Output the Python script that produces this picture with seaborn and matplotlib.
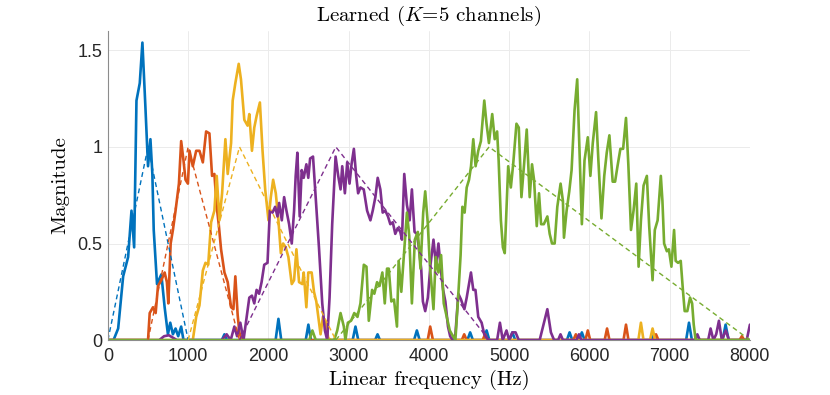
import numpy as np
import pandas as pd
import matplotlib
matplotlib.use("Agg")
import matplotlib.pyplot as plt
import seaborn as sns

# learned filter responses (Hz, magnitude)
blue_f = [0, 70, 128, 190, 252, 294, 327, 356, 397, 430, 467, 500, 530, 554, 571, 612, 666, 707, 748, 777, 810, 843, 876, 913, 942,
          1420, 1452, 1485, 2090, 2125, 2160, 2465, 2498, 2530, 3050, 3085, 3120, 3330, 3360, 3390, 3815, 3850, 3885,
          4480, 4514, 4548, 4685, 4719, 4753, 5005, 5040, 5075, 5720, 5753, 5786, 5872, 5906, 5940, 6765, 6800, 6835,
          7205, 7241, 7277, 7660, 7697, 7735, 8000]
blue_v = [0, 0, 0.06, 0.33, 0.43, 0.67, 0.48, 1.24, 1.33, 1.54, 1.21, 0.90, 1.04, 0.86, 0.57, 0.29, 0.34, 0.17, 0.03, 0.09, 0.03, 0.06, 0.02, 0.07, 0,
          0, 0.03, 0, 0, 0.11, 0, 0, 0.08, 0, 0, 0.07, 0, 0, 0.03, 0, 0, 0.05, 0,
          0, 0.04, 0, 0, 0.05, 0, 0, 0.04, 0, 0, 0.04, 0, 0, 0.04, 0, 0, 0.03, 0,
          0, 0.09, 0, 0, 0.08, 0, 0]

orange_f = [0, 500, 521, 562, 595, 624, 666, 707, 735, 753, 782, 810, 843, 885, 913, 942, 967, 997, 1017, 1058, 1100, 1141, 1183,
            1224, 1265, 1298, 1327, 1356, 1381, 1410, 1452, 1493, 1535, 1564, 1588, 1617, 1638, 1670,
            3985, 4016, 4050, 4410, 4440, 4470, 4670, 4700, 4730, 5800, 5831, 5862, 5950, 5980, 6010,
            6190, 6220, 6250, 6425, 6456, 6487, 6800, 6830, 6860, 7870, 7900, 7930, 8000]
orange_v = [0, 0, 0.14, 0.17, 0.14, 0.28, 0.31, 0.35, 0.30, 0.19, 0.50, 0.57, 0.67, 0.81, 1.03, 0.93, 0.83, 0.81, 0.98, 0.90, 0.98, 0.98, 0.92,
            1.08, 1.07, 0.85, 0.86, 0.69, 0.60, 0.47, 0.35, 0.30, 0.17, 0.16, 0.33, 0.13, 0.04, 0,
            0, 0.07, 0, 0, 0.03, 0, 0, 0.03, 0, 0, 0.03, 0, 0, 0.05, 0,
            0, 0.06, 0, 0, 0.08, 0, 0, 0.03, 0, 0, 0.02, 0, 0]

yellow_f = [0, 1058, 1100, 1141, 1183, 1216, 1250, 1286, 1327, 1356, 1390, 1423, 1464, 1493, 1535, 1555, 1588, 1630, 1658, 1700,
            1741, 1762, 1795, 1824, 1853, 1894, 1927, 1960, 2001, 2030, 2059, 2092, 2125, 2155, 2183, 2216, 2249, 2291, 2320,
            2349, 2382, 2423, 2440, 2473, 2497, 2539, 2568, 2597, 2622, 2650, 2679, 2713, 2746, 2780,
            6610, 6642, 6674, 6755, 6787, 6819, 8000]
yellow_v = [0, 0, 0.12, 0.18, 0.36, 0.40, 0.39, 0.61, 0.67, 0.85, 0.62, 0.76, 1.04, 0.86, 1.02, 1.24, 1.33, 1.43, 1.35, 1.14,
            1.11, 1.17, 0.98, 1.10, 1.16, 1.23, 0.98, 0.78, 0.62, 0.74, 0.83, 0.76, 0.62, 0.45, 0.50, 0.48, 0.43, 0.29, 0.31,
            0.47, 0.30, 0.29, 0.35, 0.17, 0.35, 0.35, 0.25, 0.20, 0.12, 0.03, 0.12, 0.09, 0.01, 0,
            0, 0.09, 0, 0, 0.06, 0, 0]

purple_f = [0, 640, 700, 760, 820, 860, 1420, 1480, 1530, 1576, 1610, 1650, 1690, 1729, 1762, 1795, 1824, 1853, 1884, 1915, 1948,
            1989, 2018, 2051, 2084, 2113, 2134, 2167, 2196, 2225, 2258, 2291, 2320, 2340, 2361, 2390, 2415, 2440, 2473, 2497,
            2520, 2556, 2589, 2630, 2671, 2704, 2733, 2762, 2795, 2837, 2870, 2899, 2920, 2953, 2982, 3011, 3036, 3065, 3094,
            3118, 3147, 3188, 3230, 3271, 3300, 3333, 3362, 3395, 3424, 3457, 3490, 3519, 3550, 3581, 3612, 3644, 3664, 3693,
            3726, 3760, 3788, 3821, 3850, 3871, 3904, 3925, 3954, 3987, 4020, 4057, 4088, 4119, 4150, 4177, 4205, 4238, 4265,
            4296, 4330, 4367, 4400, 4442, 4471, 4524, 4553, 4580, 4615, 4657, 4690, 4740, 4850, 4885, 4920, 4967, 5000, 5040,
            5080, 5120, 5380, 5422, 5476, 5520, 5560, 5610, 5640, 5670, 5840, 5870, 5900, 7315, 7345, 7375, 7480, 7510, 7545,
            7580, 7614, 7650, 7700, 7740, 7960, 8000]
purple_v = [0, 0, 0.02, 0.025, 0.01, 0, 0, 0.03, 0, 0.07, 0.02, 0.09, 0, 0.12, 0.22, 0.23, 0.19, 0.26, 0.24, 0.30, 0.39,
            0.40, 0.67, 0.66, 0.69, 0.64, 0.71, 0.62, 0.74, 0.67, 0.60, 0.50, 0.67, 0.85, 0.97, 0.64, 0.88, 0.84, 0.91, 0.84,
            0.94, 0.95, 0.74, 0.48, 0.19, 0.05, 0, 0.22, 0.60, 0.95, 0.85, 0.78, 0.90, 0.76, 0.92, 0.81, 0.91, 0.99, 0.85,
            0.76, 0.79, 0.78, 0.67, 0.62, 0.67, 0.74, 0.84, 0.78, 0.66, 0.67, 0.64, 0.60, 0.61, 0.55, 0.58, 0.56, 0.52, 0.86,
            0.70, 0.62, 0.78, 0.56, 0.55, 0.49, 0.37, 0.20, 0.15, 0.22, 0.39, 0.52, 0.39, 0.50, 0.36, 0.26, 0.20, 0.07, 0.02,
            0, 0.03, 0.24, 0.21, 0.16, 0.22, 0.35, 0.26, 0.26, 0.12, 0.09, 0.03, 0, 0, 0.09, 0, 0.05, 0, 0.04,
            0.04, 0, 0, 0.07, 0.16, 0.04, 0, 0, 0.03, 0, 0, 0.03, 0, 0, 0.03, 0, 0, 0.06, 0,
            0.03, 0.10, 0, 0.05, 0, 0, 0.08]

green_f = [0, 2510, 2548, 2590, 2820, 2858, 2899, 2940, 2960, 2990, 3030, 3070, 3110, 3147, 3189, 3222, 3251, 3292, 3320, 3354,
           3385, 3420, 3450, 3478, 3500, 3532, 3565, 3602, 3623, 3656, 3690, 3726, 3755, 3788, 3825, 3862, 3895, 3929, 3954,
           3985, 4012, 4057, 4085, 4119, 4152, 4185, 4222, 4260, 4300, 4330, 4367, 4395, 4417, 4445, 4471, 4500, 4525, 4553,
           4582, 4615, 4648, 4690, 4718, 4748, 4789, 4820, 4850, 4869, 4897, 4922, 4945, 4988, 5021, 5050, 5091, 5120, 5153,
           5186, 5219, 5256, 5285, 5310, 5344, 5372, 5398, 5432, 5476, 5505, 5534, 5567, 5600, 5641, 5670, 5683, 5716, 5749,
           5778, 5815, 5848, 5877, 5906, 5939, 5980, 6012, 6042, 6083, 6112, 6150, 6185, 6216, 6249, 6290, 6320, 6350, 6386,
           6420, 6456, 6485, 6518, 6550, 6584, 6613, 6642, 6675, 6716, 6745, 6787, 6815, 6850, 6890, 6910, 6931, 6965, 6990,
           7022, 7055, 7075, 7105, 7138, 7165, 7187, 7220, 7254, 7280, 7300, 7324, 8000]
green_v = [0, 0, 0.05, 0, 0, 0.05, 0.14, 0.07, 0, 0.09, 0.10, 0.14, 0.12, 0.19, 0.39, 0.38, 0.10, 0.26, 0.24, 0.30,
           0.28, 0.35, 0.19, 0.37, 0.37, 0.20, 0.21, 0.07, 0.41, 0.25, 0.45, 0.66, 0.54, 0.19, 0.52, 0.56, 0.37, 0.66, 0.77,
           0.61, 0.39, 0.16, 0.43, 0.35, 0.44, 0.19, 0.12, 0.05, 0.02, 0, 0.24, 0.44, 0.69, 0.66, 0.79, 0.83, 0.90, 1.04,
           0.90, 0.98, 1.03, 1.24, 1.12, 1.02, 1.17, 1.04, 1.08, 0.93, 0.62, 0.48, 0.45, 0.90, 0.79, 0.91, 1.12, 1.10, 0.74,
           0.91, 1.09, 0.74, 0.91, 0.83, 0.59, 0.76, 0.60, 0.60, 0.64, 0.55, 0.50, 0.50, 0.69, 0.81, 0.72, 0.53, 0.67, 0.77,
           0.88, 1.19, 1.35, 0.97, 0.60, 0.93, 1.05, 0.85, 1.02, 1.18, 0.93, 0.63, 0.85, 0.97, 1.06, 0.82, 0.82, 0.90, 0.99,
           0.99, 1.15, 0.91, 0.57, 0.67, 0.81, 0.38, 0.62, 0.80, 0.85, 0.59, 0.31, 0.57, 0.62, 0.85, 0.72, 0.50, 0.46, 0.47,
           0.38, 0.57, 0.41, 0.40, 0.41, 0.26, 0.15, 0.15, 0.22, 0.19, 0.08, 0, 0]

# triangular (mel-like) reference filters: edges and peak height
tri_edges = [0, 500, 1000, 1640, 2840, 4750, 8000]
tri_peak = 1.0

channels = ["1", "2", "3", "4", "5"]
colors = ["#0072BD", "#D95319", "#EDB120", "#7E2F8E", "#77AC30"]

curves = [(blue_f, blue_v), (orange_f, orange_v), (yellow_f, yellow_v), (purple_f, purple_v), (green_f, green_v)]
learned = pd.concat([pd.DataFrame({"freq": f, "mag": v, "channel": ch}) for ch, (f, v) in zip(channels, curves)])

tri = pd.concat([
    pd.DataFrame({"freq": tri_edges[i:i + 3], "mag": [0, tri_peak, 0], "channel": ch})
    for i, ch in enumerate(channels)
])

sns.set_theme(style="white")
plt.rcParams["font.family"] = ["Liberation Sans", "DejaVu Sans"]
plt.rcParams["mathtext.fontset"] = "cm"

fig = plt.figure(figsize=(8.3, 3.95), dpi=100)
ax = fig.add_axes([0.130, 0.139, 0.7735, 0.7825])

pal = dict(zip(channels, colors))
sns.lineplot(data=learned, x="freq", y="mag", hue="channel", hue_order=channels, palette=pal,
             estimator=None, sort=False, lw=1.9, legend=False, ax=ax)
sns.lineplot(data=tri, x="freq", y="mag", hue="channel", hue_order=channels, palette=pal,
             estimator=None, sort=False, lw=1.0, ls=(0, (3.5, 2.5)), legend=False, ax=ax)

ax.set_xlim(0, 8000)
ax.set_ylim(0, 1.6)
ax.set_xticks(range(0, 8001, 1000))
ax.set_yticks([0, 0.5, 1, 1.5])
ax.set_yticklabels(["0", "0.5", "1", "1.5"])
ax.grid(True, color="#ebebeb", lw=0.7)
ax.set_axisbelow(True)
for s in ["top", "right"]:
    ax.spines[s].set_visible(False)
for s in ["left", "bottom"]:
    ax.spines[s].set_color("#8c8c8c")
    ax.spines[s].set_linewidth(0.8)
ax.tick_params(direction="in", length=3, width=0.8, color="#8c8c8c", labelsize=13, labelcolor="#262626")
ax.tick_params(axis="x", pad=6)
ax.tick_params(axis="y", pad=4)

ax.set_title("Learned ($K$=5 channels)", fontfamily="cmr10", fontsize=15, color="#000000", pad=7)
ax.set_xlabel("Linear frequency (Hz)", fontfamily="cmr10", fontsize=15, color="#000000", labelpad=3)
ax.set_ylabel("Magnitude", fontfamily="cmr10", fontsize=15, color="#000000", labelpad=6)

fig.savefig("out.png", dpi=100, facecolor="white")
